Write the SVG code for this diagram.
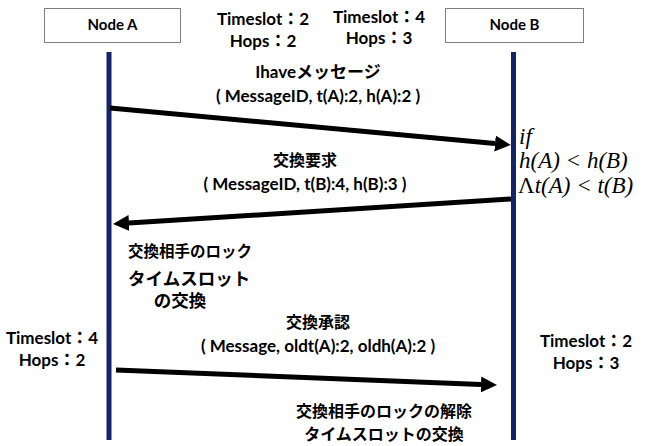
<svg xmlns="http://www.w3.org/2000/svg" width="645" height="446" viewBox="0 0 645 446">
<defs>
<style>
.box{fill:#fff;stroke:#7f7f7f;stroke-width:1}
.life{stroke:#13246b;stroke-width:5}
.msg{stroke:#000;stroke-width:5;fill:none}
.t{font-family:Lato,"Noto Sans CJK JP",sans-serif;font-weight:bold;font-size:17px;fill:#000;text-anchor:middle}
.n{font-size:15px}
.j{font-size:16px}
.s{font-size:15.5px;text-anchor:start}
.m{font-family:"Liberation Serif","DejaVu Serif",serif;font-style:italic;font-size:23px;fill:#000}
.and{font-style:normal;font-weight:normal}
</style>
<marker id="ah" markerUnits="userSpaceOnUse" markerWidth="17" markerHeight="18" refX="0" refY="8" orient="auto">
<path d="M0,0 L16,8 L0,16 z" fill="#000"/>
</marker>
</defs>
<g id="nodeA">
<rect class="box" x="44.5" y="8.5" width="136" height="34"/>
<text class="t n" x="112.5" y="30">Node A</text>
</g>
<g id="nodeB">
<rect class="box" x="445.5" y="8.5" width="138" height="34"/>
<text class="t n" x="514.5" y="30">Node B</text>
</g>
<g id="lifelines">
<line class="life" x1="109" y1="52" x2="109" y2="440"/>
<line class="life" x1="513.5" y1="52" x2="513.5" y2="440"/>
</g>
<g id="connectors">
<path class="msg" d="M110,108 L495,143.5" marker-end="url(#ah)"/>
<path class="msg" d="M511,199 L129,223" marker-end="url(#ah)"/>
<path class="msg" d="M116,370 L481,384.4" marker-end="url(#ah)"/>
</g>
<g id="labels">
<text class="t" x="263" y="25">Timeslot：2</text>
<text class="t" x="263" y="47">Hops：2</text>
<text class="t" x="379" y="23">Timeslot：4</text>
<text class="t" x="379" y="44">Hops：3</text>
<text class="t" x="318" y="78">Ihaveメッセージ</text>
<text class="t" x="318" y="102">( MessageID, t(A):2, h(A):2 )</text>
<text class="m" x="519" y="144">if</text>
<text class="m" x="519" y="168">h(A) &lt; h(B)</text>
<text class="m" x="518" y="193"><tspan class="and">Λ</tspan>t(A) &lt; t(B)</text>
<text class="t j" x="305" y="166">交換要求</text>
<text class="t" x="305" y="190">( MessageID, t(B):4, h(B):3 )</text>
<text class="t s" x="128" y="257">交換相手のロック</text>
<text class="t" x="128" y="285" style="text-anchor:start;font-size:17.5px">タイムスロット</text>
<text class="t" x="180" y="307" style="font-size:17.5px">の交換</text>
<text class="t j" x="318" y="328">交換承認</text>
<text class="t" x="318" y="352">( Message, oldt(A):2, oldh(A):2 )</text>
<text class="t" x="52" y="344">Timeslot：4</text>
<text class="t" x="52" y="366">Hops：2</text>
<text class="t" x="586" y="347">Timeslot：2</text>
<text class="t" x="586" y="369">Hops：3</text>
<text class="t j" x="384" y="417">交換相手のロックの解除</text>
<text class="t j" x="384" y="440">タイムスロットの交換</text>
</g>
</svg>
